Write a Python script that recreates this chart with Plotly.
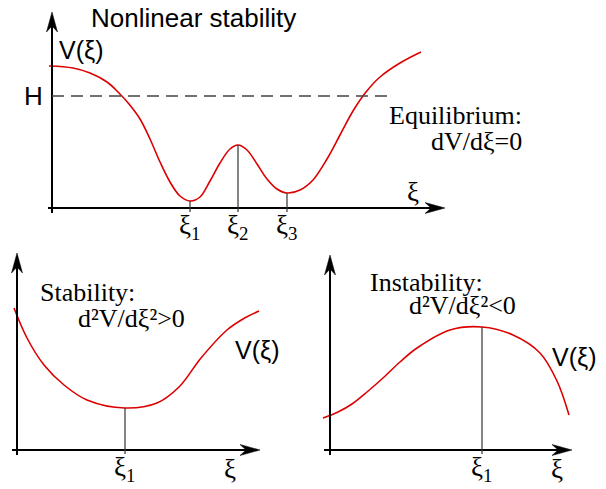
import plotly.graph_objects as go

# ---------------- data (local units: pixels from each panel's axis origin, y up) -------------
# Panel 1: nonlinear potential V(xi)
p1_x = [-3, 21, 38, 55, 66, 77, 88, 98, 108, 118, 128, 138, 148, 158, 168, 178, 186,
        195, 205, 215, 225, 235, 248, 261, 275, 288, 301, 314, 328, 348, 369]
p1_y = [142, 140, 135, 126, 116, 104, 89, 69, 46, 26, 12, 7, 11, 27, 45, 59, 63,
        58, 44, 29, 19, 15, 18, 28, 49, 73, 97, 116, 131, 145, 156]
p1_eq_x = [138, 186, 235]
p1_eq_v = [7, 63, 15]
p1_eq_labels = ["ξ<sub>1</sub>", "ξ<sub>2</sub>", "ξ<sub>3</sub>"]
p1_H = 112

# Panel 2: stable equilibrium
p2_x = [-3, 10, 27, 47, 70, 108, 140, 162, 184, 210, 226, 242]
p2_y = [142, 112, 85, 65, 50, 42, 47, 63, 92, 120, 131, 139]
p2_eq_x = [108]
p2_eq_v = [42]

# Panel 3: unstable equilibrium
p3_x = [-7, 8, 22, 37, 53, 70, 87, 120, 152, 183, 210, 227, 239]
p3_y = [32, 38, 46, 58, 72, 88, 102, 120, 123, 115, 97, 69, 35]
p3_eq_x = [152]
p3_eq_v = [123]

# ---------------- layout helpers ----------------
FIG_W, FIG_H = 606, 489
O1 = (52, 281)
O2 = (17, 39)
O3 = (330, 39)

RED = "#dd0000"
SANS = "Liberation Sans, Arial, sans-serif"
SERIF = "Liberation Serif, Times New Roman, serif"

fig = go.Figure()
shapes = []
annotations = []


def curve(o, xs, ys):
    fig.add_trace(go.Scatter(
        x=[o[0] + v for v in xs], y=[o[1] + v for v in ys],
        mode="lines", line=dict(color=RED, width=1.6, shape="spline", smoothing=1.0),
        hoverinfo="skip", showlegend=False))


def seg(o, x0, y0, x1, y1, color="black", width=2, dash=None):
    line = dict(color=color, width=width)
    if dash:
        line["dash"] = dash
    shapes.append(dict(type="line", xref="x", yref="y",
                       x0=o[0] + x0, y0=o[1] + y0, x1=o[0] + x1, y1=o[1] + y1,
                       line=line, layer="above"))


def head(o, tx, ty, direction, L=20, Wd=11, notch=6):
    X, Y = o[0] + tx, o[1] + ty
    if direction == "right":
        pts = [(X, Y), (X - L, Y + Wd / 2), (X - L + notch, Y), (X - L, Y - Wd / 2)]
    else:
        pts = [(X, Y), (X - Wd / 2, Y - L), (X, Y - L + notch), (X + Wd / 2, Y - L)]
    path = "M " + " L ".join(f"{a:.2f},{b:.2f}" for a, b in pts) + " Z"
    shapes.append(dict(type="path", xref="x", yref="y", path=path,
                       fillcolor="black", line=dict(color="black", width=0.5),
                       layer="above"))


def axes(o, xmin, xtip, ymin, ytip):
    seg(o, xmin, 0, xtip - 8, 0)
    seg(o, 0, ymin, 0, ytip - 8)
    head(o, xtip, 0, "right")
    head(o, 0, ytip, "up")


def text(o, x, y, s, font, size, xanchor="center", yanchor="middle"):
    annotations.append(dict(x=o[0] + x, y=o[1] + y, xref="x", yref="y", text=s,
                            showarrow=False, xanchor=xanchor, yanchor=yanchor,
                            font=dict(family=font, size=size, color="black")))


def guides(o, xs, vs, labels):
    for x, v, lab in zip(xs, vs, labels):
        seg(o, x, -4, x, v, color="#333333", width=1.2)
        text(o, x, -19, lab, SERIF, 27)


# ---------------- panel 1 ----------------
curve(O1, p1_x, p1_y)
axes(O1, -4, 393, -5, 196)
seg(O1, 0, p1_H, 340, p1_H, color="#444444", width=1.3, dash="12px,7px")
guides(O1, p1_eq_x, p1_eq_v, p1_eq_labels)
text(O1, 37, 190, "Nonlinear stability", SANS, 26, xanchor="left")
text(O1, 5, 158, "V(ξ)", SANS, 25, xanchor="left")
text(O1, -7, p1_H, "H", SANS, 26, xanchor="right")
text(O1, 361, 16, "ξ", SERIF, 27)
text(O1, 472, 93, "Equilibrium:", SERIF, 26, xanchor="right")
text(O1, 472, 67, "dV/dξ=0", SERIF, 26, xanchor="right")

# ---------------- panel 2 ----------------
curve(O2, p2_x, p2_y)
axes(O2, -5, 243, -5, 197)
guides(O2, p2_eq_x, p2_eq_v, ["ξ<sub>1</sub>"])
text(O2, 213, -19, "ξ", SERIF, 27)
text(O2, 21, 158, "Stability:", SERIF, 26, xanchor="left")
text(O2, 59, 132, "d²V/dξ²&gt;0", SERIF, 26, xanchor="left")
text(O2, 216, 100, "V(ξ)", SANS, 25, xanchor="left")

# ---------------- panel 3 ----------------
curve(O3, p3_x, p3_y)
axes(O3, -6, 242, -5, 195)
guides(O3, p3_eq_x, p3_eq_v, ["ξ<sub>1</sub>"])
text(O3, 227, -19, "ξ", SERIF, 27)
text(O3, 38, 168, "Instability:", SERIF, 26, xanchor="left")
text(O3, 77, 145, "d²V/dξ²&lt;0", SERIF, 26, xanchor="left")
text(O3, 220, 93, "V(ξ)", SANS, 25, xanchor="left")

fig.update_layout(
    width=FIG_W, height=FIG_H, autosize=False,
    margin=dict(l=0, r=0, t=0, b=0, pad=0),
    paper_bgcolor="white", plot_bgcolor="white",
    xaxis=dict(range=[0, FIG_W], visible=False, fixedrange=True),
    yaxis=dict(range=[0, FIG_H], visible=False, fixedrange=True),
    shapes=shapes, annotations=annotations, showlegend=False,
)

fig.write_html("out.html", config={"displayModeBar": False},
               post_script="document.body.style.margin='0px';")
